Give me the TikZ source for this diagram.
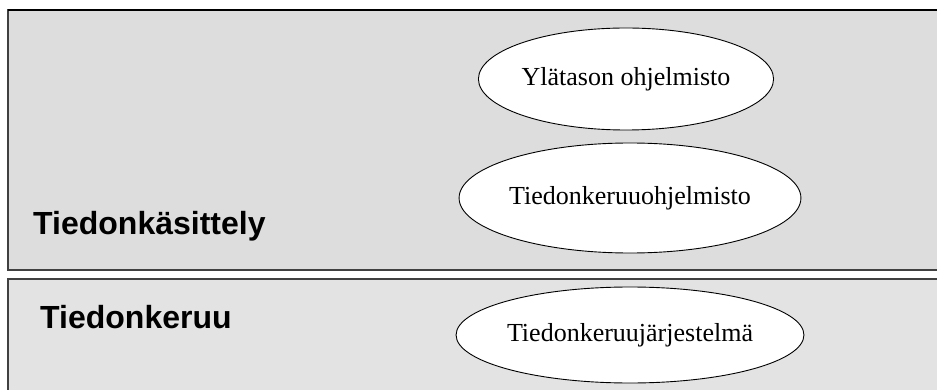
\documentclass[tikz,border=0pt]{standalone}
\usepackage{fontspec}
\setmainfont{Liberation Serif}
\setsansfont{Liberation Sans}
\usetikzlibrary{shapes.geometric}
\definecolor{topgray}{HTML}{DDDDDD}
\definecolor{botgray}{HTML}{E3E3E3}
\definecolor{edgegray}{HTML}{404040}
\begin{document}
\begin{tikzpicture}[x=1pt,y=-1pt,
  layer/.style={line width=1.4pt,draw=edgegray},
  oval/.style={ellipse,draw=black,fill=white,line width=0.9pt,inner sep=0pt,
    font=\fontsize{26}{30}\selectfont},
  layerlabel/.style={anchor=base west,inner sep=0pt,
    font=\sffamily\bfseries\fontsize{32}{36}\selectfont}]
\useasboundingbox (0,0) rectangle (937,390);
\fill[white] (0,0) rectangle (937,390);
\clip (0,0) rectangle (937,390);
\path[layer,fill=topgray] (8,10) rectangle (960,270);
\draw[line width=1.8pt,black] (8,10) -- (960,10);
\path[layer,fill=botgray] (8,279) rectangle (960,420);
\node[oval,minimum width=288pt,minimum height=102pt] (ylataso) at (626,79) {Ylätason ohjelmisto};
\node[oval,minimum width=320pt,minimum height=110pt] (ohj) at (630,198) {Tiedonkeruuohjelmisto};
\node[oval,minimum width=334pt,minimum height=96pt] (jarj) at (630,335) {Tiedonkeruujärjestelmä};
\node[layerlabel] (kas) at (33,235) {Tiedonkäsittely};
\node[layerlabel] (ker) at (40,328) {Tiedonkeruu};
\end{tikzpicture}
\end{document}
